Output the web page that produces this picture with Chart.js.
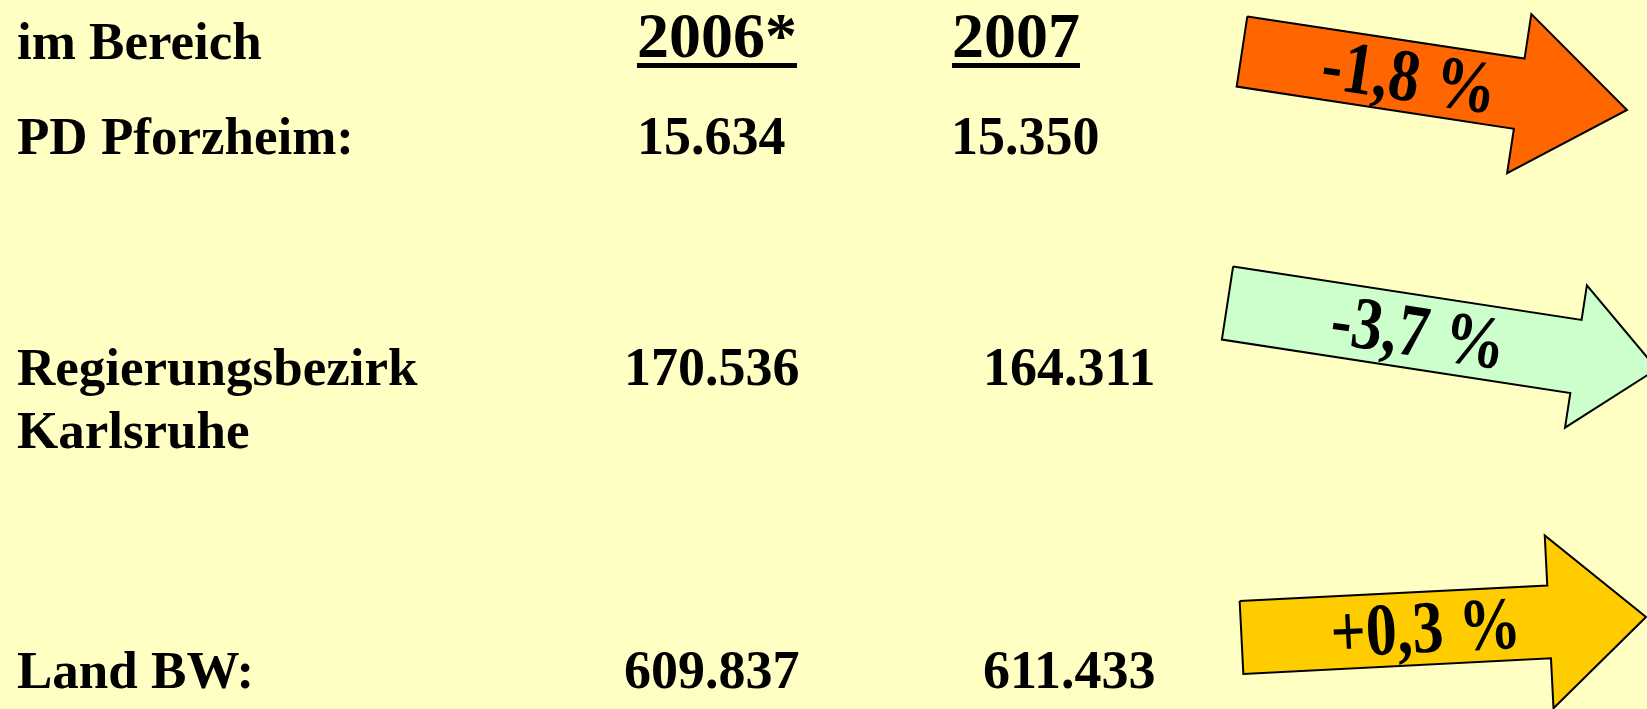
<!DOCTYPE html>
<html>
<head>
<meta charset="utf-8">
<script src="https://cdn.jsdelivr.net/npm/chart.js@4.4.1/dist/chart.umd.min.js"></script>
<style>
  html, body { margin: 0; padding: 0; background: #FFFFC4; overflow: hidden; }
  #grafica { display: block; }
</style>
</head>
<body>
<canvas id="grafica" width="1647" height="709"></canvas>
<script>
// data
const titulo = 'im Bereich'
const years = ['2006*', '2007']
const regions = [['PD Pforzheim:'], ['Regierungsbezirk', 'Karlsruhe'], ['Land BW:']]
const values2006 = [15634, 170536, 609837]
const values2007 = [15350, 164311, 611433]
const changes = [-1.8, -3.7, 0.3]
const arrowColors = ['#FF6600', '#CCFFCC', '#FFCC00']

// layout (page coordinates, y goes down)
const rowBase = [154, 385, 688]
const col2006Left = [637, 624, 624]
const col2007Left = [951, 983, 983]
const headBase = 57
const headLeft = [637, 952]
// arrow: tail mid, tip, shaft width, head width, head length
const arrowGeo = [
    { tail: [1242, 51.5], tip: [1627, 110], sw: 71, hw: 161, hl: 109 },
    { tail: [1227.5, 303], tip: [1657, 369], sw: 74, hw: 144, hl: 82 },
    { tail: [1241.5, 637.5], tip: [1646, 617], sw: 73, hw: 173, hl: 97 }
]
const textPos = [0.435, 0.445, 0.455]

function fmtNum(v) {
    return String(v).replace(/\B(?=(\d{3})+(?!\d))/g, '.');
}
function fmtChange(v) {
    return (v > 0 ? '+' : '') + v.toFixed(1).replace('.', ',') + ' %';
}

function arrowPoints(g) {
    let dx = g.tip[0] - g.tail[0], dy = g.tip[1] - g.tail[1];
    let len = Math.sqrt(dx * dx + dy * dy);
    let ux = dx / len, uy = dy / len;
    let nx = -uy, ny = ux;
    let bx = g.tip[0] - ux * g.hl, by = g.tip[1] - uy * g.hl;
    let p = (x, y, k) => ({ x: x + nx * k, y: y + ny * k });
    return [
        p(g.tail[0], g.tail[1], -g.sw / 2),
        p(bx, by, -g.sw / 2),
        p(bx, by, -g.hw / 2),
        { x: g.tip[0], y: g.tip[1] },
        p(bx, by, g.hw / 2),
        p(bx, by, g.sw / 2),
        p(g.tail[0], g.tail[1], g.sw / 2),
        p(g.tail[0], g.tail[1], -g.sw / 2)
    ];
}

const datasets = arrowGeo.map((g, i) => ({
    label: fmtChange(changes[i]),
    data: arrowPoints(g),
    showLine: true,
    fill: 'shape',
    tension: 0,
    pointRadius: 0,
    borderColor: '#000000',
    borderWidth: 2,
    borderJoinStyle: 'miter',
    backgroundColor: arrowColors[i]
}));

const fondo = {
    id: 'fondo',
    beforeDraw(chart) {
        const c = chart.ctx;
        c.save();
        c.fillStyle = '#FFFFC4';
        c.fillRect(0, 0, chart.width, chart.height);
        c.restore();
    }
};

const serif = '"Liberation Serif", "Times New Roman", serif';

const textos = {
    id: 'textos',
    afterDatasetsDraw(chart) {
        const c = chart.ctx;
        const sx = chart.scales.x, sy = chart.scales.y;
        const px = v => sx.getPixelForValue(v);
        const py = v => sy.getPixelForValue(v);
        c.save();
        c.fillStyle = '#000';
        c.textBaseline = 'alphabetic';
        c.textAlign = 'left';

        c.font = 'bold 53px ' + serif;
        c.fillText(titulo, px(17), py(headBase + 2));

        c.font = 'bold 64px ' + serif;
        years.forEach((y, i) => {
            c.fillText(y, px(headLeft[i]), py(headBase));
            let w = c.measureText(y).width;
            c.fillRect(px(headLeft[i]), py(63), w, 5);
        });

        regions.forEach((r, i) => {
            c.font = 'bold 53px ' + serif;
            r.forEach((line, j) => {
                c.fillText(line, px(17), py(rowBase[i] + j * 63));
            });
            c.font = 'bold 54px ' + serif;
            c.fillText(fmtNum(values2006[i]), px(col2006Left[i]), py(rowBase[i]));
            c.fillText(fmtNum(values2007[i]), px(col2007Left[i]), py(rowBase[i]));
        });

        // percentages on the arrows
        c.font = 'bold 62px ' + serif;
        c.textAlign = 'center';
        arrowGeo.forEach((g, i) => {
            let dx = g.tip[0] - g.tail[0], dy = g.tip[1] - g.tail[1];
            let len = Math.sqrt(dx * dx + dy * dy);
            let t = len * textPos[i];
            let cx = g.tail[0] + dx / len * t, cy = g.tail[1] + dy / len * t;
            c.save();
            c.translate(px(cx), py(cy));
            c.rotate(Math.atan2(dy, dx));
            c.scale(1, 1.2);
            c.fillText(fmtChange(changes[i]), 0, 20);
            c.restore();
        });
        c.restore();
    }
};

const ctx = document.getElementById('grafica').getContext('2d');
let ch = new Chart(ctx, {
    type: 'scatter',
    data: { datasets: datasets },
    options: {
        responsive: false,
        maintainAspectRatio: false,
        devicePixelRatio: 1,
        animation: false,
        layout: { padding: 0 },
        plugins: {
            legend: { display: false },
            tooltip: { enabled: false },
            title: { display: false }
        },
        scales: {
            x: { type: 'linear', min: 0, max: 1647, display: false },
            y: { type: 'linear', min: 0, max: 709, reverse: true, display: false }
        }
    },
    plugins: [fondo, textos]
});
</script>
</body>
</html>
